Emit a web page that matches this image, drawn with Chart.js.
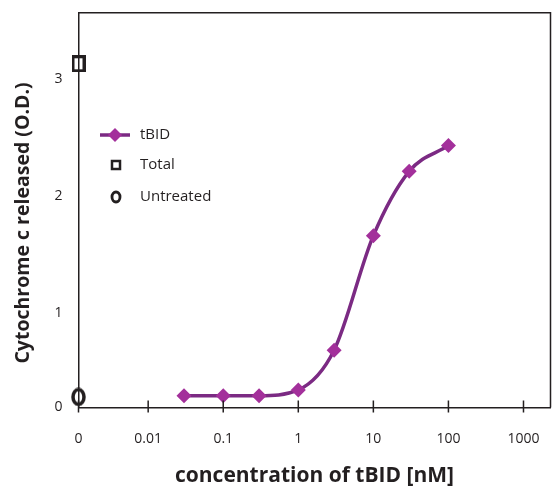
<!DOCTYPE html>
<html><head><meta charset="utf-8">
<script src="https://cdn.jsdelivr.net/npm/chart.js@4/dist/chart.umd.min.js"></script>
<style>html,body{margin:0;padding:0;background:#fff;overflow:hidden}</style>
</head><body>
<canvas id="c" width="552" height="491" style="width:552px;height:491px;display:block"></canvas>
<script>
// ---- data ----
const concentrations = [0.03, 0.1, 0.3, 1, 3, 10, 30, 100];      // nM
const tBIDRelease    = [0.29, 0.29, 0.29, 0.34, 0.68, 1.66, 2.21, 2.43];
const totalRelease     = [3.13];
const untreatedRelease = [0.28];
const zeroConcentration = 0.00118;          // where "0" sits on the log axis
const xTickValues = [0.01, 0.1, 1, 10, 100, 1000];
const yTickValues = [1, 2, 3];
const yBottom = 0.19, yTop = 3.567;

const INK = '#231f20';
const FONT = "'Open Sans', sans-serif";

function makeCanvas(w, h, draw) {
  const c = document.createElement('canvas');
  c.width = w; c.height = h;
  draw(c.getContext('2d'));
  return c;
}
const squareMark = makeCanvas(14, 17, g => { g.strokeStyle = INK; g.lineWidth = 3; g.strokeRect(1.5, 1.5, 11, 14); });
const ellipseMark = makeCanvas(15, 19, g => { g.strokeStyle = INK; g.lineWidth = 3.5; g.beginPath(); g.ellipse(7.5, 9.5, 5.5, 7.5, 0, 0, Math.PI*2); g.stroke(); });

const decor = {
  id: 'decor',
  afterDraw(chart) {
    const ctx = chart.ctx, a = chart.chartArea, xs = chart.scales.x;
    ctx.save();
    ctx.strokeStyle = INK; ctx.lineWidth = 1.5;
    // frame top + right
    ctx.beginPath();
    ctx.moveTo(a.left, a.top); ctx.lineTo(a.right, a.top); ctx.lineTo(a.right, a.bottom);
    ctx.stroke();
    // crossing tick marks on x axis
    ctx.beginPath();
    xs.ticks.forEach(t => {
      const x = xs.getPixelForValue(t.value);
      ctx.moveTo(x, a.bottom - 7); ctx.lineTo(x, a.bottom + 5);
    });
    ctx.stroke();
    // y title
    ctx.fillStyle = INK;
    ctx.font = "bold 19.5px " + FONT;
    ctx.textAlign = 'center'; ctx.textBaseline = 'middle';
    ctx.translate(23, 223); ctx.rotate(-Math.PI/2);
    ctx.fillText('Cytochrome c released (O.D.)', 0, 0);
    ctx.restore();

    // legend
    ctx.save();
    ctx.font = "15px " + FONT;
    ctx.fillStyle = INK; ctx.textBaseline = 'middle'; ctx.textAlign = 'left';
    const ds = chart.data.datasets;
    // tBID
    ctx.strokeStyle = ds[0].borderColor; ctx.lineWidth = 3.5;
    ctx.beginPath(); ctx.moveTo(100, 135); ctx.lineTo(130, 135); ctx.stroke();
    ctx.fillStyle = ds[0].pointBackgroundColor;
    ctx.beginPath(); ctx.moveTo(115, 128); ctx.lineTo(122, 135); ctx.lineTo(115, 142); ctx.lineTo(108, 135); ctx.closePath(); ctx.fill();
    ctx.fillStyle = INK;
    ctx.fillText(ds[0].label, 140, 135);
    // Total
    ctx.strokeStyle = INK; ctx.lineWidth = 2.5;
    ctx.strokeRect(112, 161, 8, 8);
    ctx.fillText(ds[1].label, 140, 165);
    // Untreated
    ctx.lineWidth = 2.8;
    ctx.beginPath(); ctx.ellipse(116, 197, 4, 5, 0, 0, Math.PI*2); ctx.stroke();
    ctx.fillText(ds[2].label, 140, 197);
    ctx.restore();
  }
};

new Chart(document.getElementById('c'), {
  type: 'line',
  data: {
    datasets: [
      {
        label: 'tBID',
        data: concentrations.map((c, i) => ({x: c, y: tBIDRelease[i]})),
        borderColor: '#7b2a83', borderWidth: 3.5,
        pointBackgroundColor: '#a3309b', pointBorderWidth: 0,
        pointStyle: 'rectRot', pointRadius: 7.5, pointHoverRadius: 7.5,
        cubicInterpolationMode: 'monotone', clip: false
      },
      {
        label: 'Total',
        data: totalRelease.map(v => ({x: zeroConcentration, y: v})),
        showLine: false, pointStyle: squareMark, clip: false
      },
      {
        label: 'Untreated',
        data: untreatedRelease.map(v => ({x: zeroConcentration, y: v})),
        showLine: false, pointStyle: ellipseMark, clip: false
      }
    ]
  },
  options: {
    responsive: false, animation: false, devicePixelRatio: 1,
    layout: { autoPadding: false, padding: { top: 12.7, right: 1.5, left: 0, bottom: 0 } },
    plugins: { legend: { display: false }, tooltip: { enabled: false } },
    scales: {
      x: {
        type: 'logarithmic', min: zeroConcentration, max: 2290,
        grid: { display: true, drawOnChartArea: false, drawTicks: true, tickLength: 23, color: 'rgba(0,0,0,0)' },
        border: { display: true, color: INK, width: 1.5 },
        afterBuildTicks: s => { s.ticks = [zeroConcentration, ...xTickValues].map(v => ({value: v})); },
        afterFit: s => { s.height = 83.5; s.paddingLeft = 0; s.paddingRight = 0; },
        ticks: {
          autoSkip: false, maxRotation: 0, padding: 0,
          color: INK, font: { family: FONT, size: 14 },
          callback: v => v === zeroConcentration ? '0' : String(v)
        },
        title: {
          display: true, text: 'concentration of tBID [nM]', color: INK,
          font: { family: FONT, size: 21, weight: 'bold' }, padding: { top: 2, bottom: 2 }
        }
      },
      y: {
        type: 'linear', min: yBottom, max: yTop,
        grid: { display: false, drawTicks: false },
        border: { display: true, color: INK, width: 1.5 },
        afterBuildTicks: s => { s.ticks = [yBottom, ...yTickValues].map(v => ({value: v})); },
        afterFit: s => { s.width = 78.5; s.paddingTop = 0; s.paddingBottom = 0; },
        ticks: {
          padding: 16, color: INK, font: { family: FONT, size: 14 },
          callback: v => v === yBottom ? '0' : String(v)
        }
      }
    }
  },
  plugins: [decor]
});
</script>
</body></html>
